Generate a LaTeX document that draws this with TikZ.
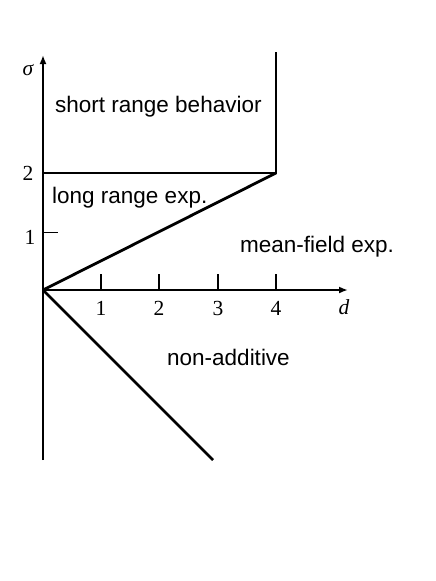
\documentclass[tikz,border=0pt]{standalone}
\usepackage{fontspec}
\setmainfont{Liberation Serif}
\newfontfamily\lsans{Liberation Sans}
\usetikzlibrary{arrows.meta}
\begin{document}
\begin{tikzpicture}[x=1pt,y=-1pt,
  ax/.style={line width=2.8pt},
  lbl/.style={font=\lsans\fontsize{22.5}{26}\selectfont, anchor=base west, inner sep=0pt},
  num/.style={font=\fontsize{21.5}{25}\selectfont, inner sep=0pt},
  tk/.style={line width=2.4pt}]
\useasboundingbox (0,0) rectangle (436,581);
\coordinate (O) at (43,290);
\coordinate (ytop) at (43,55);
\coordinate (ybot) at (43,460);
\coordinate (xend) at (348,290);
\coordinate (s2) at (43,173);
\coordinate (c4) at (276,173);
\coordinate (c4top) at (276,52);
\coordinate (dend) at (213,460);
\draw[ax] (ybot) -- (O);
\draw[ax,-{Latex[length=9pt,width=7pt]}] (O) -- (ytop);
\draw[ax,-{Latex[length=9pt,width=7pt]}] (O) -- (xend);
\draw[ax] (s2) -- (c4) -- (c4top);
\draw[ax] (O) -- (c4);
\draw[ax] (O) -- (dend);
\coordinate (t1a) at (101,290); \coordinate (t1b) at (101,274);
\coordinate (t2a) at (159,290); \coordinate (t2b) at (159,274);
\coordinate (t3a) at (218,290); \coordinate (t3b) at (218,274);
\coordinate (t4a) at (276,290); \coordinate (t4b) at (276,274);
\draw[tk] (t1a) -- (t1b) (t2a) -- (t2b) (t3a) -- (t3b) (t4a) -- (t4b);
\coordinate (y1a) at (44,232); \coordinate (y1b) at (58,232);
\draw[line width=0.9pt] (y1a) -- (y1b);
\node[num] (l1) at (101,308) {1};
\node[num] (l2) at (159,308) {2};
\node[num] (l3) at (218,308) {3};
\node[num] (l4) at (276,308) {4};
\node[num] (ld) at (344,307) {\itshape d};
\node[num] (ly2) at (28,173) {2};
\node[num] (ly1) at (30,237) {1};
\node[num] (lsig) at (28,70) {\itshape σ};
\node[lbl] (short) at (55,112) {short range behavior};
\node[lbl] (long) at (52,203) {long range exp.};
\node[lbl] (mf) at (240,252) {mean-field exp.};
\node[lbl] (na) at (167,365) {non-additive};
\end{tikzpicture}
\end{document}
